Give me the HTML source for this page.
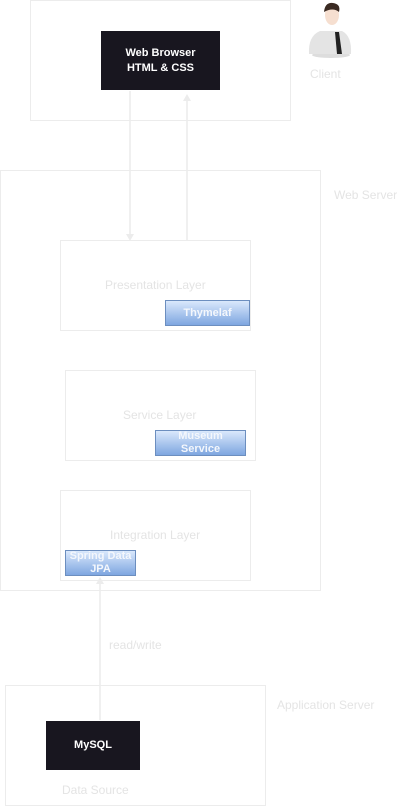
<!DOCTYPE html>
<html><head><meta charset="utf-8"><style>
body{margin:0;width:411px;height:806px;background:#fff;position:relative;overflow:hidden;font-family:"Liberation Sans",Arial,sans-serif;}
.b{position:absolute;border:1px solid #ececec;box-sizing:border-box;background:#fff;}
.t{position:absolute;color:#e4e4e4;font-size:12px;white-space:nowrap;}
.dk{position:absolute;background:#18161f;border:1px solid #fff;box-sizing:border-box;color:#fff;font-size:11px;font-weight:bold;display:flex;align-items:center;justify-content:center;text-align:center;line-height:15px;}
.bl{position:absolute;background:linear-gradient(#dae8fc,#7ea6e0);border:1px solid #6c8ebf;box-sizing:border-box;color:#f4f7fc;font-size:11px;font-weight:bold;display:flex;align-items:center;justify-content:center;text-align:center;line-height:13px;overflow:hidden;}
</style></head><body>
<div class="b" style="left:30px;top:0;width:261px;height:121px"></div>
<div class="b" style="left:0;top:170px;width:321px;height:421px"></div>
<div class="b" style="left:60px;top:240px;width:191px;height:91px"></div>
<div class="b" style="left:65px;top:370px;width:191px;height:91px"></div>
<div class="b" style="left:60px;top:490px;width:191px;height:91px"></div>
<div class="b" style="left:5px;top:685px;width:261px;height:121px"></div>

<div class="t" style="left:334px;top:188px">Web Server</div>
<div class="t" style="left:310px;top:67px">Client</div>
<div class="t" style="left:105px;top:278px">Presentation Layer</div>
<div class="t" style="left:123px;top:408px">Service Layer</div>
<div class="t" style="left:110px;top:528px">Integration Layer</div>
<div class="t" style="left:109px;top:638px">read/write</div>
<div class="t" style="left:277px;top:698px">Application Server</div>
<div class="t" style="left:62px;top:783px">Data Source</div>

<svg style="position:absolute;left:0;top:0" width="411" height="806">
<g stroke="#ececec" stroke-width="1.5" fill="none">
<line x1="130" y1="91" x2="130" y2="236"/>
<line x1="187" y1="100" x2="187" y2="240"/>
<line x1="100" y1="582" x2="100" y2="726"/>
</g>
<g fill="#ececec">
<polygon points="126,234 134,234 130,241"/>
<polygon points="183,101 191,101 187,94"/>
<polygon points="96,584 104,584 100,577"/>
</g>
<polygon points="96,724 104,724 100,731" fill="#fff"/>
<ellipse cx="331" cy="55" rx="19" ry="3" fill="#ddd"/>
<path d="M309,54 Q308,36 320,31 L342,31 Q352,36 351,54 Z" fill="#e4e4e4"/>
<polygon points="335,32 339,32 342,54 337,54" fill="#222"/>
<ellipse cx="332" cy="15" rx="7" ry="10" fill="#f6dfd0"/>
<path d="M324,12 Q325,2 333,3 Q341,4 339,12 Q333,7 324,12Z" fill="#3a2a22"/>
</svg>

<div class="dk" style="left:100px;top:30px;width:121px;height:61px">Web Browser<br>HTML &amp; CSS</div>
<div class="dk" style="left:45px;top:720px;width:96px;height:51px">MySQL</div>
<div class="bl" style="left:165px;top:300px;width:85px;height:26px">Thymelaf</div>
<div class="bl" style="left:155px;top:430px;width:91px;height:26px">Museum<br>Service</div>
<div class="bl" style="left:65px;top:550px;width:71px;height:26px">Spring Data<br>JPA</div>
</body></html>
